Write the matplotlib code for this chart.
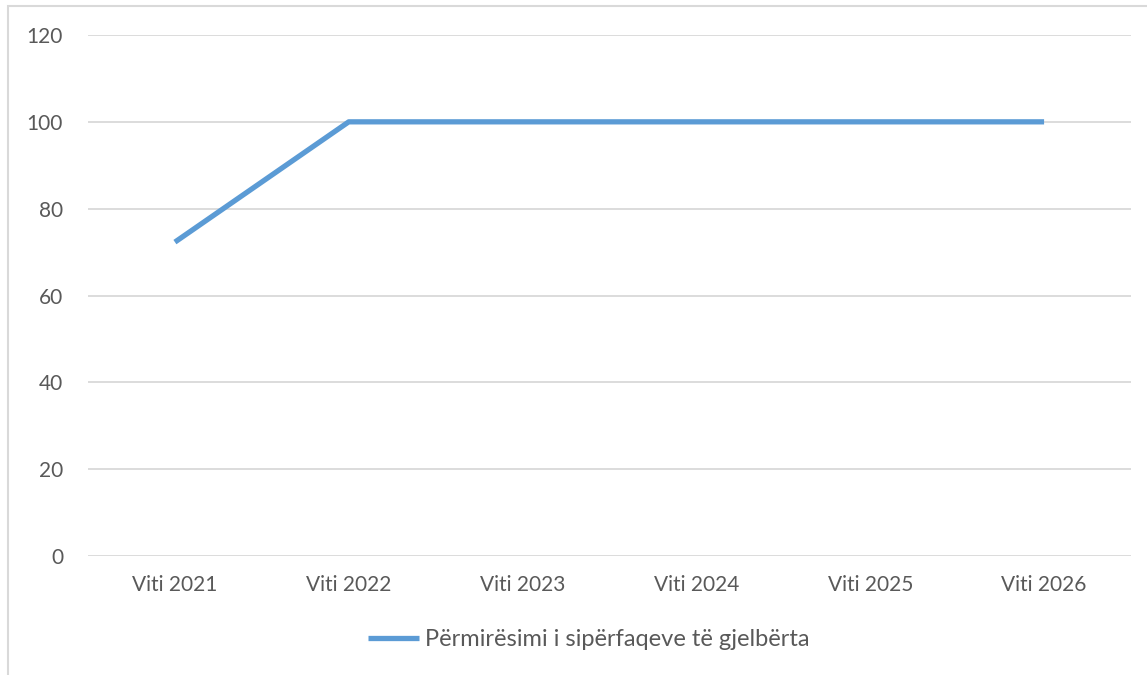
import matplotlib.pyplot as plt
from matplotlib.patches import Rectangle

years = ["Viti 2021", "Viti 2022", "Viti 2023", "Viti 2024", "Viti 2025", "Viti 2026"]
values = [72.3, 100, 100, 100, 100, 100]
series_name = "Përmirësimi i sipërfaqeve të gjelbërta"
y_ticks = [0, 20, 40, 60, 80, 100, 120]


def main() -> None:
    """draws the chart"""
    plt.rcParams['font.family'] = ['Lato', 'DejaVu Sans']
    text_color = "#595959"

    fig = plt.figure(figsize=(11.47, 6.75), dpi=100)
    ax = fig.add_axes([88 / 1147, 1 - 556 / 675, (1131 - 88) / 1147,
                       (556 - 35) / 675])

    # chart frame, partly cut off at right and bottom
    fig.patches.append(Rectangle((8 / 1147, -0.1), 1.2, 1 - 6 / 675 + 0.1,
                                 transform=fig.transFigure, fill=False,
                                 edgecolor="#D9D9D9", linewidth=1.5))

    x = list(range(len(years)))
    ax.plot(x, values, color="#5B9BD5", linewidth=3.8,
            solid_capstyle="butt", label=series_name)

    ax.set_xlim(-0.5, len(years) - 0.5)
    ax.set_ylim(0, 120)
    ax.set_yticks(y_ticks)
    ax.set_xticks(x)
    ax.set_xticklabels(years)
    ax.grid(axis="y", color="#D9D9D9", linewidth=1.3)
    ax.set_axisbelow(True)
    for side in ["top", "right", "left", "bottom"]:
        ax.spines[side].set_visible(False)
    ax.tick_params(axis="both", length=0, colors=text_color, labelsize=15)
    ax.tick_params(axis="y", pad=18)
    ax.tick_params(axis="x", pad=14)

    ax.legend(loc="center", bbox_to_anchor=(589 / 1147, 1 - 640 / 675),
              bbox_transform=fig.transFigure, frameon=False,
              fontsize=17, labelcolor=text_color, handlelength=2.15,
              handletextpad=0.25)

    fig.savefig("out.png", dpi=100)


if __name__ == "__main__":
    main()
